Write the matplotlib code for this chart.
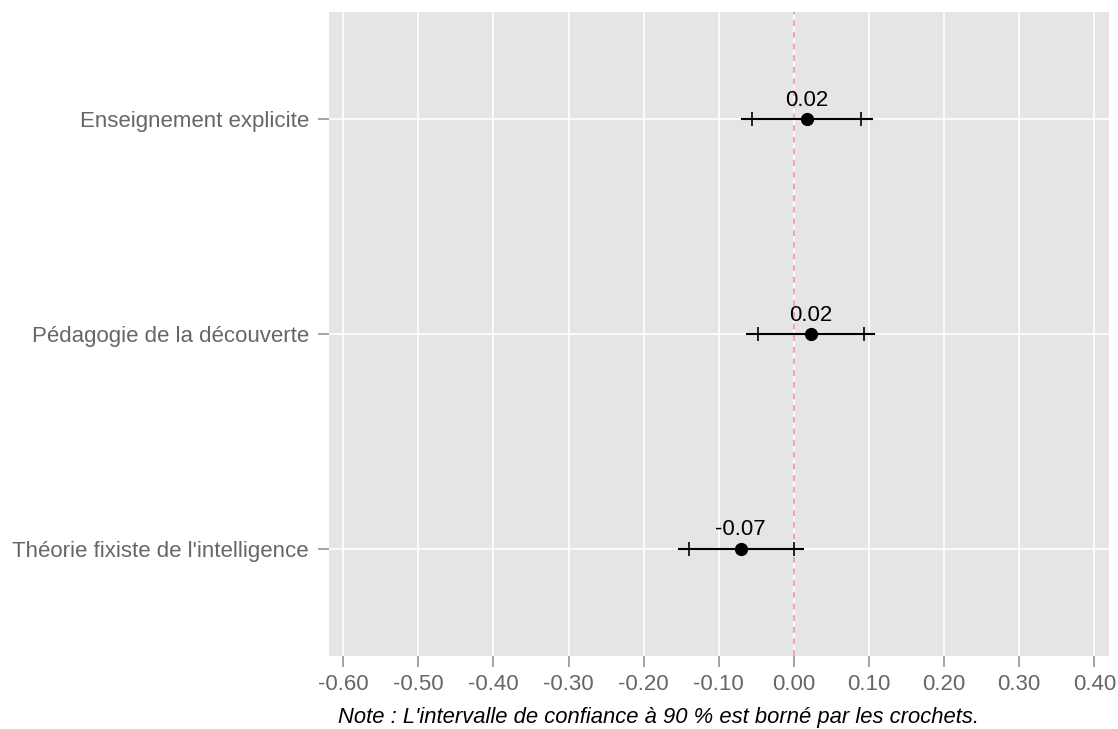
import matplotlib
matplotlib.use("Agg")
import matplotlib.pyplot as plt

categories = ["Enseignement explicite", "Pédagogie de la découverte", "Théorie fixiste de l'intelligence"]
estimates = [0.017, 0.023, -0.071]
ci95_low = [-0.069, -0.062, -0.153]
ci95_high = [0.104, 0.106, 0.012]
ci90_low = [-0.056, -0.048, -0.140]
ci90_high = [0.090, 0.094, 0.000]
value_labels = ["0.02", "0.02", "-0.07"]
xticks = [-0.6, -0.5, -0.4, -0.3, -0.2, -0.1, 0.0, 0.1, 0.2, 0.3, 0.4]
note = "Note : L'intervalle de confiance à 90 % est borné par les crochets."

plt.rcParams['font.family'] = ['Liberation Sans', 'DejaVu Sans']

W, H = 1118, 729
fig = plt.figure(figsize=(W / 100, H / 100), dpi=100)
left, right, top, bottom = 328.5, 1108.5, 12, 656
ax = fig.add_axes([left / W, 1 - bottom / H, (right - left) / W, (bottom - top) / H])
ax.set_facecolor('#E5E5E5')
for s in ax.spines.values():
    s.set_visible(False)

ypos = list(range(len(categories)))
ax.set_xlim(-0.6197, 0.4189)
ax.set_ylim(len(categories) - 0.5, -0.5)

ax.set_xticks(xticks)
ax.set_xticklabels([f"{t:.2f}" for t in xticks])
ax.set_yticks(ypos)
ax.set_yticklabels(categories)
ax.grid(True, color='white', linewidth=1.2)
ax.set_axisbelow(True)
ax.tick_params(axis='both', colors='#8C8C8C', labelcolor='#666666', labelsize=16, length=8, width=1.1)
ax.tick_params(axis='x', pad=5)
ax.tick_params(axis='y', pad=6)

ax.axvline(0, color='#F4A3A3', linestyle=(0, (3, 3)), linewidth=1.4, zorder=2)

for i, y in enumerate(ypos):
    ax.plot([ci95_low[i], ci95_high[i]], [y, y], color='black', linewidth=1.5, zorder=3)
    ax.plot([ci90_low[i], ci90_high[i]], [y, y], linestyle='none', marker='|', markersize=9.5,
            markeredgewidth=1.2, color='black', zorder=3)
    ax.plot(estimates[i], y, 'o', color='black', markersize=8.5, zorder=4)
    ax.annotate(value_labels[i], (estimates[i], y), xytext=(0, 9.5), textcoords='offset points',
                ha='center', va='baseline', fontsize=16, color='black')

fig.text(658.5 / W, 1 - 723 / H, note, ha='center', va='baseline',
         fontsize=15.8, style='italic', color='black')

fig.savefig('out.png', dpi=100, facecolor='white')
